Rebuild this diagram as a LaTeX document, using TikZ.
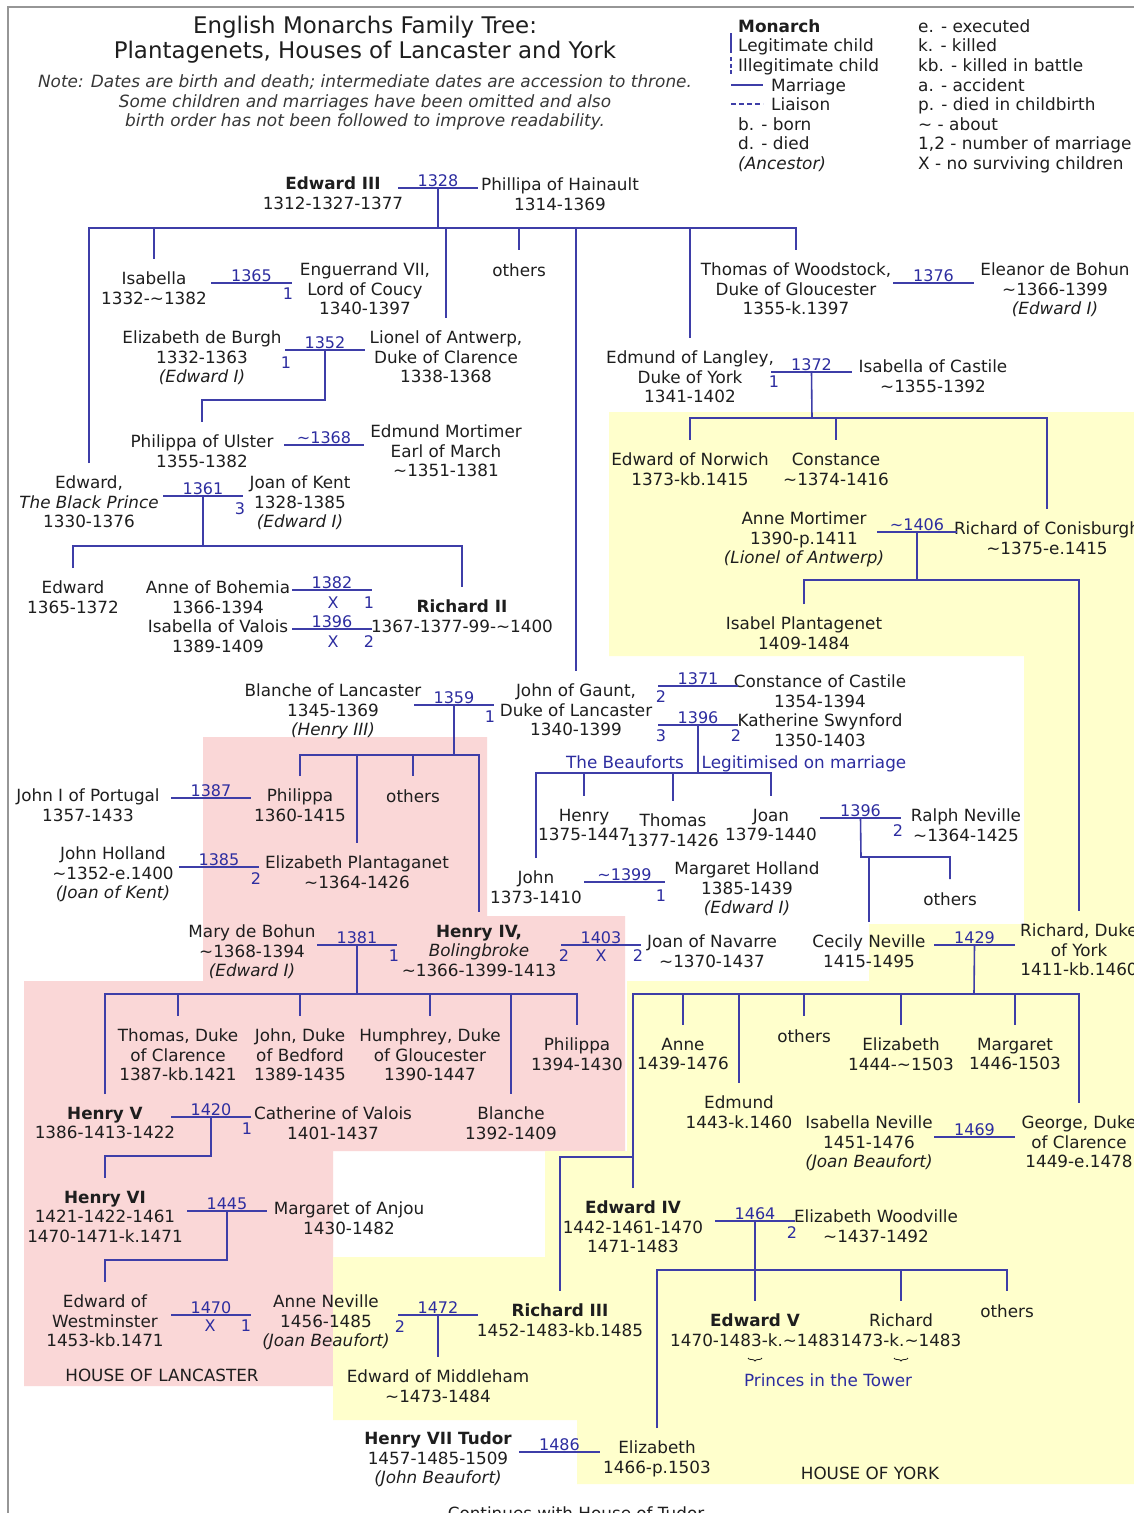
\documentclass[tikz,border=0pt]{standalone}
\usepackage{fontspec}
\setmainfont{DejaVu Sans}
\usetikzlibrary{decorations.pathreplacing}
\definecolor{lc}{RGB}{62,62,168}
\definecolor{yc}{RGB}{45,45,160}
\definecolor{tc}{RGB}{30,30,30}
\definecolor{notec}{RGB}{55,55,55}
\definecolor{pinkbg}{RGB}{250,215,215}
\definecolor{yelbg}{RGB}{255,255,204}
\definecolor{framec}{RGB}{150,150,150}
\newcommand\til{\textasciitilde}
\newcommand\pers[4]{\node[person] (#1) at (#2,#3-19) {#4};}
\newcommand\mk[4]{\node[mk] (#1) at (#2,#3) {#4};}
\newcommand\marr[5]{%
  \coordinate (#1l) at (#2,#4);
  \coordinate (#1r) at (#3,#4);
  \coordinate (#1) at ({(#2+#3)/2},#4);
  \draw[ln] (#1l) -- (#1r);
  \node[yr] (#1y) at (#1) {#5};}
\newcommand\drop[2]{\draw[ln] (#2.north |- #1) -- (#2.north);}
\tikzset{
  ln/.style={draw=lc, line width=1.6pt},
  person/.style={anchor=north, inner sep=0pt, outer xsep=0pt, outer ysep=13.2pt,
    align=center, text=tc, font=\fontsize{16.8}{19.5}\selectfont,
    execute at begin node=\strut},
  yr/.style={anchor=south, inner sep=0pt, yshift=1.5pt, text=yc,
    font=\fontsize{16}{19.5}\selectfont},
  mk/.style={anchor=center, inner sep=0pt, text=yc, font=\fontsize{16}{19.5}\selectfont},
  leg/.style={anchor=base west, inner sep=0pt, text=tc, font=\fontsize{16.9}{19.5}\selectfont},
  titlest/.style={anchor=north, inner sep=0pt, align=center, text=tc,
    font=\fontsize{22.9}{25}\selectfont, execute at begin node=\strut},
  notest/.style={anchor=north, inner sep=0pt, align=center, text=notec,
    font=\fontsize{16.9}{19.5}\selectfont\itshape, execute at begin node=\strut},
}
\begin{document}
\begin{tikzpicture}[x=1pt,y=-1pt]
\useasboundingbox (0,0) rectangle (1134,1513);
\fill[white] (0,0) rectangle (1134,1513);
% house backgrounds
\fill[pinkbg] (203,737) -- (487,737) -- (487,916) -- (625,916) -- (625,1151)
  -- (333,1151) -- (333,1386) -- (24,1386) -- (24,981) -- (203,981) -- cycle;
\fill[yelbg] (609,412) -- (1140,412) -- (1140,1484) -- (577,1484) -- (577,1420)
  -- (333,1420) -- (333,1257) -- (545,1257) -- (545,1151) -- (627,1151)
  -- (627,981) -- (869,981) -- (869,924) -- (1024,924) -- (1024,656)
  -- (609,656) -- cycle;
% frame
\draw[framec, line width=1.5pt] (8,1530) -- (8,7) -- (1150,7);

% title and note
\node[titlest] (title) at (365,15.5) {English Monarchs Family Tree:\\Plantagenets, Houses of Lancaster and York};
\node[notest] (note) at (365,74.5) {Note: Dates are birth and death; intermediate dates are accession to throne.\\Some children and marriages have been omitted and also\\birth order has not been followed to improve readability.};

% legend
\coordinate (lg1a) at (731,33); \coordinate (lg1b) at (731,53);
\coordinate (lg2a) at (731,57); \coordinate (lg2b) at (731,74);
\coordinate (lg3a) at (731,85); \coordinate (lg3b) at (763,85);
\coordinate (lg4a) at (731,104); \coordinate (lg4b) at (763,104);
\draw[ln] (lg1a) -- (lg1b);
\draw[ln, dash pattern=on 4pt off 2.5pt] (lg2a) -- (lg2b);
\draw[ln] (lg3a) -- (lg3b);
\draw[ln, dash pattern=on 5pt off 3pt] (lg4a) -- (lg4b);
\node[leg] (lgmon) at (738,32) {\textbf{Monarch}};
\node[leg] (lglegit) at (738,51) {Legitimate child};
\node[leg] (lgilleg) at (738,71) {Illegitimate child};
\node[leg] (lgmarr) at (771,91) {Marriage};
\node[leg] (lgliai) at (771,110) {Liaison};
\node[leg] (lgb) at (738,130) {b. - born};
\node[leg] (lgd) at (738,149) {d. - died};
\node[leg] (lganc) at (738,169) {\textit{(Ancestor)}};
\node[leg] (lge) at (918,32) {e. - executed};
\node[leg] (lgk) at (918,51) {k. - killed};
\node[leg] (lgkb) at (918,71) {kb. - killed in battle};
\node[leg] (lga) at (918,91) {a. - accident};
\node[leg] (lgp) at (918,110) {p. - died in childbirth};
\node[leg] (lgt) at (918,130) {\til{} - about};
\node[leg] (lgn) at (918,149) {1,2 - number of marriage};
\node[leg] (lgx) at (918,169) {X - no surviving children};

% people
\pers{ed3}{333}{183}{\textbf{Edward III}\\1312-1327-1377}
\pers{phil}{560}{184}{Phillipa of Hainault\\1314-1369}
\pers{isab}{154}{278}{Isabella\\1332-\til1382}
\pers{engu}{365}{269}{Enguerrand VII,\\Lord of Coucy\\1340-1397}
\pers{others1}{519}{269}{others}
\pers{thomas}{796}{269}{Thomas of Woodstock,\\Duke of Gloucester\\1355-k.1397}
\pers{eleanor}{1055}{269}{Eleanor de Bohun\\\til1366-1399\\\textit{(Edward I)}}
\pers{elburgh}{202}{337}{Elizabeth de Burgh\\1332-1363\\\textit{(Edward I)}}
\pers{lionel}{446}{337}{Lionel of Antwerp,\\Duke of Clarence\\1338-1368}
\pers{langley}{690}{357}{Edmund of Langley,\\Duke of York\\1341-1402}
\pers{isabcast}{933}{366}{Isabella of Castile\\\til1355-1392}
\pers{philulster}{202}{441}{Philippa of Ulster\\1355-1382}
\pers{mortimer}{446}{431}{Edmund Mortimer\\Earl of March\\\til1351-1381}
\pers{norwich}{690}{459}{Edward of Norwich\\1373-kb.1415}
\pers{constance}{836}{459}{Constance\\\til1374-1416}
\pers{blackprince}{89}{482}{Edward,\\\textit{The Black Prince}\\1330-1376}
\pers{joankent}{300}{482}{Joan of Kent\\1328-1385\\\textit{(Edward I)}}
\pers{annemort}{804}{518}{Anne Mortimer\\1390-p.1411\\\textit{(Lionel of Antwerp)}}
\pers{conisburgh}{1047}{528}{Richard of Conisburgh\\\til1375-e.1415}
\pers{edw1365}{73}{587}{Edward\\1365-1372}
\pers{anneboh}{218}{587}{Anne of Bohemia\\1366-1394}
\pers{isabvalois}{218}{626}{Isabella of Valois\\1389-1409}
\pers{richard2}{462}{606}{\textbf{Richard II}\\1367-1377-99-\til1400}
\pers{isabelplant}{804}{623}{Isabel Plantagenet\\1409-1484}
\pers{blanche}{333}{690}{Blanche of Lancaster\\1345-1369\\\textit{(Henry III)}}
\pers{gaunt}{576}{690}{John of Gaunt,\\Duke of Lancaster\\1340-1399}
\pers{constcast}{820}{681}{Constance of Castile\\1354-1394}
\pers{katherine}{820}{720}{Katherine Swynford\\1350-1403}
\node[person, text=yc] (beauforts) at (625,742) {The Beauforts};
\node[person, text=yc] (legitimised) at (804,742) {Legitimised on marriage};
\pers{johnport}{88}{795}{John I of Portugal\\1357-1433}
\pers{philippa}{300}{795}{Philippa\\1360-1415}
\pers{others2}{413}{795}{others}
\pers{henryb}{584}{815}{Henry\\1375-1447}
\pers{thomasb}{673}{820}{Thomas\\1377-1426}
\pers{joanb}{771}{815}{Joan\\1379-1440}
\pers{ralph}{966}{815}{Ralph Neville\\\til1364-1425}
\pers{johnholland}{113}{853}{John Holland\\\til1352-e.1400\\\textit{(Joan of Kent)}}
\pers{elizplant}{357}{862}{Elizabeth Plantaganet\\\til1364-1426}
\pers{johnb}{536}{877}{John\\1373-1410}
\pers{margholland}{747}{868}{Margaret Holland\\1385-1439\\\textit{(Edward I)}}
\pers{others3}{950}{898}{others}
\pers{marybohun}{252}{931}{Mary de Bohun\\\til1368-1394\\\textit{(Edward I)}}
\pers{henry4}{479}{931}{\textbf{Henry IV,}\\\textit{Bolingbroke}\\\til1366-1399-1413}
\pers{joannav}{712}{941}{Joan of Navarre\\\til1370-1437}
\pers{cecily}{869}{941}{Cecily Neville\\1415-1495}
\pers{richyork}{1079}{930}{Richard, Duke\\of York\\1411-kb.1460}
\pers{thomasc}{178}{1035}{Thomas, Duke\\of Clarence\\1387-kb.1421}
\pers{johnbed}{300}{1035}{John, Duke\\of Bedford\\1389-1435}
\pers{humph}{430}{1035}{Humphrey, Duke\\of Gloucester\\1390-1447}
\pers{philippa2}{577}{1044}{Philippa\\1394-1430}
\pers{anne}{683}{1044}{Anne\\1439-1476}
\pers{others4}{804}{1035}{others}
\pers{elizy}{901}{1044}{Elizabeth\\1444-\til1503}
\pers{margy}{1015}{1044}{Margaret\\1446-1503}
\pers{edmund}{739}{1102}{Edmund\\1443-k.1460}
\pers{henry5}{105}{1113}{\textbf{Henry V}\\1386-1413-1422}
\pers{cathval}{333}{1113}{Catherine of Valois\\1401-1437}
\pers{blanche2}{511}{1113}{Blanche\\1392-1409}
\pers{isabnev}{869}{1122}{Isabella Neville\\1451-1476\\\textit{(Joan Beaufort)}}
\pers{george}{1079}{1122}{George, Duke\\of Clarence\\1449-e.1478}
\pers{henry6}{105}{1197}{\textbf{Henry VI}\\1421-1422-1461\\1470-1471-k.1471}
\pers{margan}{349}{1208}{Margaret of Anjou\\1430-1482}
\pers{edward4}{633}{1207}{\textbf{Edward IV}\\1442-1461-1470\\1471-1483}
\pers{elizwood}{876}{1216}{Elizabeth Woodville\\\til1437-1492}
\pers{edwest}{105}{1301}{Edward of\\Westminster\\1453-kb.1471}
\pers{anneville}{326}{1301}{Anne Neville\\1456-1485\\\textit{(Joan Beaufort)}}
\pers{richard3}{560}{1310}{\textbf{Richard III}\\1452-1483-kb.1485}
\pers{edward5}{755}{1320}{\textbf{Edward V}\\1470-1483-k.\til1483}
\pers{richardt}{901}{1320}{Richard\\1473-k.\til1483}
\pers{others5}{1007}{1310}{others}
\node[person, text=yc] (princes) at (828,1360) {Princes in the Tower};
\pers{middleham}{438}{1376}{Edward of Middleham\\\til1473-1484}
\pers{hol}{162}{1374}{HOUSE OF LANCASTER}
\pers{henry7}{438}{1438}{\textbf{Henry VII Tudor}\\1457-1485-1509\\\textit{(John Beaufort)}}
\pers{elizabeth}{657}{1447}{Elizabeth\\1466-p.1503}
\pers{hoy}{870}{1472}{HOUSE OF YORK}
\pers{continues}{576}{1512}{Continues with House of Tudor}

% braces (Princes in the Tower)
\draw[tc, line width=0.8pt, decorate, decoration={brace, mirror, amplitude=3pt}] (748,1358) -- (762,1358);
\draw[tc, line width=0.8pt, decorate, decoration={brace, mirror, amplitude=3pt}] (894,1358) -- (908,1358);

% marriages
\marr{ma}{398}{478}{188}{1328}
\marr{mb}{211}{292}{283}{1365}
\marr{mc}{285}{365}{350}{1352}
\marr{md}{284}{364}{445}{\til1368}
\marr{me}{163}{243}{496}{1361}
\marr{mf}{292}{372}{590}{1382}
\marr{mg}{292}{372}{629}{1396}
\marr{mh}{893}{974}{283}{1376}
\marr{mi}{771}{852}{372}{1372}
\marr{mj}{877}{957}{532}{\til1406}
\marr{mk}{414}{494}{705}{1359}
\marr{ml}{658}{738}{686}{1371}
\marr{mm}{658}{738}{725}{1396}
\marr{mn}{171}{251}{798}{1387}
\marr{mo}{179}{259}{867}{1385}
\marr{mp}{584}{665}{882}{\til1399}
\marr{mq}{820}{901}{818}{1396}
\marr{mr}{317}{397}{945}{1381}
\marr{ms}{561}{641}{945}{1403}
\marr{mt}{934}{1015}{945}{1429}
\marr{mu}{171}{251}{1117}{1420}
\marr{mv}{934}{1015}{1137}{1469}
\marr{mw}{187}{267}{1211}{1445}
\marr{mx}{715}{795}{1221}{1464}
\marr{my}{171}{251}{1315}{1470}
\marr{mz}{398}{478}{1315}{1472}
\marr{maa}{519}{600}{1452}{1486}

% marriage markers
\mk{k1}{288}{294}{1}
\mk{k2}{286}{363}{1}
\mk{k3}{240}{509}{3}
\mk{k4}{333}{603}{X}
\mk{k5}{369}{603}{1}
\mk{k6}{333}{642}{X}
\mk{k7}{369}{642}{2}
\mk{k8}{774}{382}{1}
\mk{k9}{490}{717}{1}
\mk{k10}{661}{697}{2}
\mk{k11}{661}{736}{3}
\mk{k12}{736}{736}{2}
\mk{k13}{256}{879}{2}
\mk{k14}{661}{896}{1}
\mk{k15}{898}{831}{2}
\mk{k16}{394}{956}{1}
\mk{k17}{564}{956}{2}
\mk{k18}{601}{956}{X}
\mk{k19}{638}{956}{2}
\mk{k20}{247}{1129}{1}
\mk{k21}{792}{1233}{2}
\mk{k22}{210}{1326}{X}
\mk{k23}{246}{1326}{1}
\mk{k24}{400}{1327}{2}

% descent lines
\coordinate (b1) at (438,228);
\draw[ln] (ma) -- (b1);
\draw[ln] (blackprince.north) |- (thomas.north |- b1) -- (thomas.north);
\drop{b1}{isab}\drop{b1}{lionel}\drop{b1}{others1}\drop{b1}{gaunt}\drop{b1}{langley}

\coordinate (j3) at (325,400);
\draw[ln] (mc) -- (j3) -| (philulster.north);

\coordinate (b2) at (203,546);
\draw[ln] (me) -- (b2);
\draw[ln] (edw1365.north) |- (richard2.north |- b2) -- (richard2.north);

\coordinate (b3) at (812,418);
\draw[ln] (mi) -- (b3);
\draw[ln] (norwich.north) |- (conisburgh.north |- b3) -- (conisburgh.north);
\drop{b3}{constance}

\coordinate (b4) at (917,580);
\draw[ln] (mj) -- (b4);
\draw[ln] (isabelplant.north) |- (richyork.north |- b4) -- (richyork.north);

\coordinate (b5) at (454,755);
\draw[ln] (mk) -- (b5);
\draw[ln] (philippa.north) |- (henry4.north |- b5) -- (henry4.north);
\drop{b5}{elizplant}\drop{b5}{others2}

\coordinate (b6) at (698,773);
\draw[ln] (mm) -- (b6);
\draw[ln] (johnb.north) |- (joanb.north |- b6) -- (joanb.north);
\drop{b6}{henryb}\drop{b6}{thomasb}

\coordinate (b7) at (861,857);
\draw[ln] (mq) -- (b7) -| (others3.north);
\drop{b7}{cecily}

\coordinate (b8) at (357,994);
\draw[ln] (mr) -- (b8);
\draw[ln] (henry5.north) |- (philippa2.north |- b8) -- (philippa2.north);
\drop{b8}{thomasc}\drop{b8}{johnbed}\drop{b8}{humph}\drop{b8}{blanche2}

\coordinate (b9) at (974,994);
\draw[ln] (mt) -- (b9);
\draw[ln] (edward4.north) |- (george.north |- b9) -- (george.north);
\drop{b9}{anne}\drop{b9}{edmund}\drop{b9}{others4}\drop{b9}{elizy}\drop{b9}{margy}
\coordinate (j9) at (633,1157);
\draw[ln] (j9) -| (richard3.north);

\coordinate (j21) at (211,1156);
\draw[ln] (mu) -- (j21) -| (henry6.north);
\coordinate (j23) at (227,1260);
\draw[ln] (mw) -- (j23) -| (edwest.north);

\coordinate (b10) at (755,1270);
\draw[ln] (mx) -- (edward5.north);
\draw[ln] (elizabeth.north) |- (others5.north |- b10) -- (others5.north);
\drop{b10}{richardt}

\draw[ln] (mz) -- (middleham.north);
\end{tikzpicture}
\end{document}
